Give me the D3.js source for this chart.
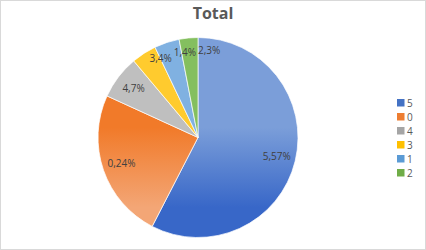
<!DOCTYPE html>
<html>
<head>
<meta charset="utf-8">
<script src="https://cdn.jsdelivr.net/npm/d3@7"></script>
<style>
  body { margin: 0; background: #fff; }
  text { font-family: "Open Sans", "Noto Sans", sans-serif; }
</style>
</head>
<body>
<div id="chart"></div>
<script>
// slice categories and their shares (percent), in drawing order
var categories = ["5", "0", "4", "3", "1", "2"];
var shares = [57, 24, 7, 4, 4, 3];
var colorsTop = ["#7b9ed9", "#f17a29", "#bfbfbf", "#ffcb2e", "#80b1e1", "#84bf5f"];
var colorsBottom = ["#3867c8", "#f3a676", "#a9a9a9", "#fabf14", "#5d9bd6", "#6aab46"];
var legendColors = ["#4472c4", "#ed7d31", "#a5a5a5", "#ffc000", "#5b9bd5", "#70ad47"];
var chartTitle = "Total";

var width = 426, height = 250;
var cx = 198, cy = 137.5, radius = 100;

var data = categories.map(function(c, i) { return { cat: c, value: shares[i], i: i }; });

var svg = d3.select("#chart")
  .append("svg")
    .attr("width", width)
    .attr("height", height);

// chart border
svg.append("rect")
  .attr("x", 0.5).attr("y", 0.5)
  .attr("width", width - 1).attr("height", height - 1)
  .attr("fill", "#fff")
  .attr("stroke", "#d9d9d9");

// gradients, one per slice (top of pie -> bottom of pie), in the pie group's coords
var defs = svg.append("defs");
data.forEach(function(d) {
  var g = defs.append("linearGradient")
    .attr("id", "grad" + d.i)
    .attr("gradientUnits", "userSpaceOnUse")
    .attr("x1", 0).attr("y1", -radius)
    .attr("x2", 0).attr("y2", radius);
  g.append("stop").attr("offset", "45%").attr("stop-color", colorsTop[d.i]);
  g.append("stop").attr("offset", "85%").attr("stop-color", colorsBottom[d.i]);
});

svg.append("text")
  .attr("x", 213)
  .attr("y", 19)
  .attr("text-anchor", "middle")
  .style("font-size", "16px")
  .style("font-weight", "bold")
  .attr("fill", "#595959")
  .text(chartTitle);

var pie = d3.pie()
  .sort(null)
  .value(function(d) { return d.value; });

var arc = d3.arc()
  .innerRadius(0)
  .outerRadius(radius);

var g = svg.append("g")
  .attr("transform", "translate(" + cx + "," + cy + ")");

var arcs = pie(data);

g.selectAll("path")
  .data(arcs)
  .enter()
  .append("path")
    .attr("d", arc)
    .attr("fill", function(d) { return "url(#grad" + d.data.i + ")"; })
    .attr("stroke", "#fff")
    .attr("stroke-width", 0.7);

var labels = g.selectAll("text")
  .data(arcs)
  .enter()
  .append("text")
    .attr("text-anchor", "middle")
    .attr("dy", "0.35em")
    .style("font-size", "10px")
    .attr("fill", "#404040")
    .text(function(d) { return d.data.cat + "," + d.data.value + "%"; })
    .each(function(d) {
      // small slices: label sits near the slice's end edge, further out
      var small = d.data.value < 5;
      var r = small ? radius * 0.87 : radius * 0.81;
      var a = small ? d.endAngle : (d.startAngle + d.endAngle) / 2;
      d.lx = Math.sin(a) * r;
      d.ly = -Math.cos(a) * r;
      d.w = this.getComputedTextLength();
    });

// push overlapping labels clockwise (to the right)
for (var i = 0; i < arcs.length; i++) {
  for (var j = i + 1; j < arcs.length; j++) {
    var p = arcs[i], q = arcs[j];
    var overlapX = (p.w + q.w) / 2 + 2 - Math.abs(p.lx - q.lx);
    var overlapY = 11 - Math.abs(p.ly - q.ly);
    if (overlapX > 0 && overlapY > 0 && q.lx >= p.lx) {
      q.lx += overlapX;
    }
  }
}

labels.attr("transform", function(d) { return "translate(" + d.lx + "," + d.ly + ")"; });

// legend
var legend = svg.append("g")
  .attr("transform", "translate(397,99)");

var rowH = 14;
var rows = legend.selectAll("g")
  .data(data)
  .enter()
  .append("g")
    .attr("transform", function(d, i) { return "translate(0," + (i * rowH) + ")"; });

rows.append("rect")
  .attr("width", 7.5)
  .attr("height", 7.5)
  .attr("fill", function(d) { return legendColors[d.i]; });

rows.append("text")
  .attr("x", 10)
  .attr("y", 4)
  .attr("dy", "0.35em")
  .style("font-size", "10px")
  .attr("fill", "#595959")
  .text(function(d) { return d.cat; });
</script>
</body>
</html>
